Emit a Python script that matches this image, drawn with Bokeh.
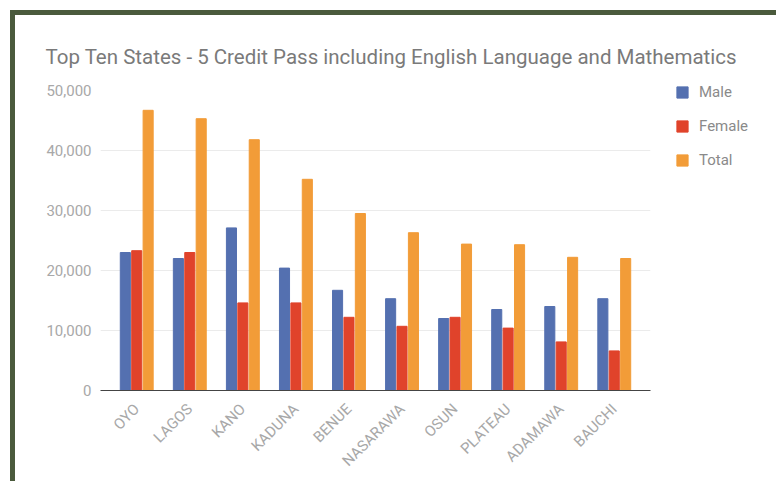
import math
from bokeh.plotting import figure
from bokeh.models import (ColumnDataSource, FactorRange, Range1d, NumeralTickFormatter,
                          FixedTicker, Legend, LegendItem)
from bokeh.transform import dodge
from bokeh.embed import file_html
from bokeh.resources import INLINE

states = ["OYO", "LAGOS", "KANO", "KADUNA", "BENUE", "NASARAWA", "OSUN", "PLATEAU", "ADAMAWA", "BAUCHI"]
male = [23000, 22000, 27100, 20400, 16700, 15300, 12000, 13500, 14000, 15300]
female = [23300, 23000, 14600, 14600, 12200, 10700, 12200, 10400, 8100, 6600]
total = [46700, 45300, 41800, 35200, 29500, 26300, 24400, 24300, 22200, 22000]
series_cols = ["male", "female", "total"]
series_names = ["Male", "Female", "Total"]
series_colors = ["#5470b0", "#e0432b", "#f29c38"]
y_ticks = [0, 10000, 20000, 30000, 40000, 50000]
title_text = "Top Ten States - 5 Credit Pass including  English Language  and Mathematics"

src = ColumnDataSource(dict(state=states, male=male, female=female, total=total))

p = figure(x_range=FactorRange(factors=states, range_padding=0.0366),
           y_range=Range1d(0, 50000),
           width=766, height=471, output_backend="svg", toolbar_location=None,
           min_border_left=85, min_border_right=131, min_border_top=75, min_border_bottom=96,
           border_fill_color="white", background_fill_color="white", outline_line_color=None)

p.styles = {"border-top": "5px solid #4a5a3c", "border-left": "5px solid #4a5a3c",
            "position": "relative", "top": "10px", "left": "10px"}

p.title.text = title_text
p.title.text_font = "Roboto"
p.title.text_font_size = "20.5px"
p.title.text_font_style = "normal"
p.title.text_color = "#7a7a7a"
p.title.align = "left"
p.title.offset = -55
p.title.standoff = 43

w = 0.19
for col, off, color in zip(series_cols, [-0.215, 0.0, 0.215], series_colors):
    p.vbar(x=dodge("state", off, range=p.x_range), top=col, width=w, source=src, color=color)

p.yaxis.ticker = FixedTicker(ticks=y_ticks)
p.yaxis.formatter = NumeralTickFormatter(format="0,0")
p.yaxis.axis_line_color = None
p.yaxis.major_tick_line_color = None
p.yaxis.minor_tick_line_color = None
p.yaxis.major_tick_out = 0
p.yaxis.minor_tick_out = 0
p.yaxis.major_label_standoff = 9
p.yaxis.major_label_text_font = "Roboto"
p.yaxis.major_label_text_font_size = "15px"
p.yaxis.major_label_text_color = "#a8a8a8"

p.xaxis.axis_line_color = "#444444"
p.xaxis.major_tick_line_color = None
p.xaxis.minor_tick_line_color = None
p.xaxis.major_tick_out = 0
p.xaxis.minor_tick_out = 0
p.xaxis.major_label_orientation = math.pi / 4
p.xaxis.major_label_standoff = 16
p.xaxis.major_label_text_font = "Roboto"
p.xaxis.major_label_text_font_size = "15px"
p.xaxis.major_label_text_color = "#a8a8a8"

p.xgrid.grid_line_color = None
p.ygrid.grid_line_color = "#ebebeb"
p.ygrid.ticker = FixedTicker(ticks=y_ticks)

# legend drawn in a small companion figure placed over the right-hand margin;
# its proxy bars use the same data but fall outside its tiny 0..1 ranges
leg = figure(width=100, height=100, output_backend="svg", toolbar_location=None,
             x_range=Range1d(0, 1), y_range=Range1d(0, 1), min_border=0,
             outline_line_color=None, border_fill_color=None, background_fill_color=None)
leg.axis.visible = False
leg.grid.visible = False
leg.styles = {"position": "absolute", "left": "675px", "top": "83px"}
items = []
for col, name, color in zip(series_cols, series_names, series_colors):
    r = leg.vbar(x=col, top=col, width=1, source=src, color=color)
    items.append(LegendItem(label=name, renderers=[r]))
legend = Legend(items=items, location="top_left", padding=0, margin=0, spacing=16,
                glyph_width=14, glyph_height=14, label_height=14, label_standoff=10,
                label_text_font="Roboto", label_text_font_size="15px",
                label_text_color="#8a8a8a", border_line_color=None,
                background_fill_alpha=0)
leg.add_layout(legend, "center")

html = file_html([p, leg], INLINE)
html = html.replace("<body>", '<body style="background-color:#e6e6e6;">', 1)
open("out.html", "w").write(html)
